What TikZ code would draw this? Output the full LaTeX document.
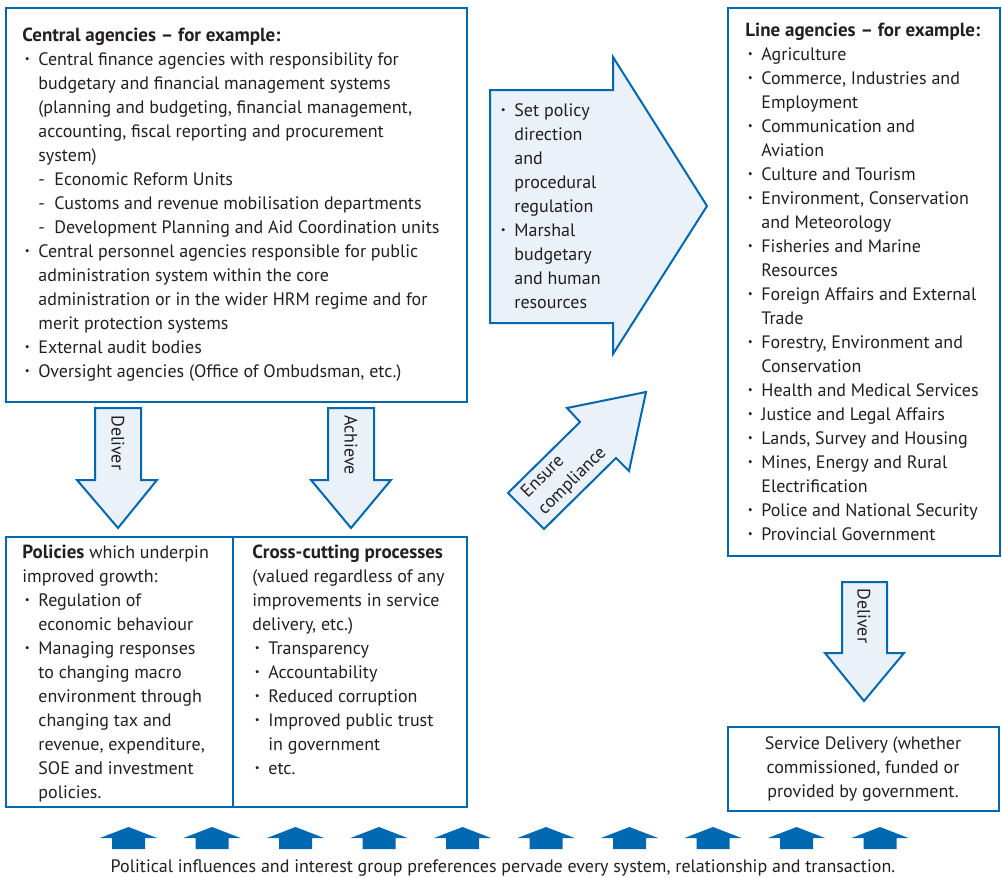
\documentclass[tikz,border=0pt]{standalone}
\usepackage{fontspec}
\setmainfont{PT Sans}
\usepackage{tikz}
\definecolor{govblue}{RGB}{0,103,177}
\definecolor{govfill}{RGB}{234,241,249}
\definecolor{govtext}{RGB}{35,31,32}
% list helpers
\newcommand{\bul}{\makebox[8pt][l]{\hspace{1.2pt}\raisebox{0.3ex}{\scalebox{0.6}{\textbullet}}}}
\newcommand{\ind}{\hspace*{8pt}}
\newcommand{\subd}{\makebox[8pt][l]{-}}
\newcommand{\hd}[1]{{\fontsize{9.5}{12}\selectfont\bfseries #1}}

\begin{document}
\begin{tikzpicture}[x=0.5pt, y=-0.5pt,
    every node/.style={inner sep=0pt, text=govtext, font=\fontsize{9}{12}\selectfont},
    panel/.style={draw=govblue, line width=0.65pt},
    blockarrow/.style={draw=govblue, fill=govfill, line width=1pt, line join=miter},
    listtext/.style={anchor=north west, align=left}]
    \useasboundingbox (0,0) rectangle (1002,878);

    % Central agencies box
    \draw[panel] (6,8) rectangle (467,402);
    \node[listtext] (central) at (22,24) {\strut\hd{Central agencies – for example:}\\
        \bul Central finance agencies with responsibility for\\
        \ind budgetary and financial management systems\\
        \ind (planning and budgeting, financial management,\\
        \ind accounting, fiscal reporting and procurement\\
        \ind system)\\
        \ind\subd Economic Reform Units\\
        \ind\subd Customs and revenue mobilisation departments\\
        \ind\subd Development Planning and Aid Coordination units\\
        \bul Central personnel agencies responsible for public\\
        \ind administration system within the core\\
        \ind administration or in the wider HRM regime and for\\
        \ind merit protection systems\\
        \bul External audit bodies\\
        \bul Oversight agencies (Office of Ombudsman, etc.)};

    % Line agencies box
    \draw[panel] (728,8) rectangle (1000,556);
    \node[listtext] (line) at (745,19) {\strut\hd{Line agencies – for example:}\\
        \bul Agriculture\\
        \bul Commerce, Industries and\\
        \ind Employment\\
        \bul Communication and\\
        \ind Aviation\\
        \bul Culture and Tourism\\
        \bul Environment, Conservation\\
        \ind and Meteorology\\
        \bul Fisheries and Marine\\
        \ind Resources\\
        \bul Foreign Affairs and External\\
        \ind Trade\\
        \bul Forestry, Environment and\\
        \ind Conservation\\
        \bul Health and Medical Services\\
        \bul Justice and Legal Affairs\\
        \bul Lands, Survey and Housing\\
        \bul Mines, Energy and Rural\\
        \ind Electrification\\
        \bul Police and National Security\\
        \bul Provincial Government};

    % Big arrow between the agencies
    \draw[blockarrow] (490,90) -- (613,90) -- (613,57) -- (707,206) -- (613,354) -- (613,323) -- (490,323) -- cycle;
    \node[listtext] (steer) at (498,99) {\strut\bul Set policy\\
        \ind direction\\
        \ind and\\
        \ind procedural\\
        \ind regulation\\
        \bul Marshal\\
        \ind budgetary\\
        \ind and human\\
        \ind resources};

    % Ensure compliance arrow
    \draw[blockarrow] (508,493) -- (580,422) -- (567,408) -- (646,392) -- (629,471) -- (616,458) -- (544,529) -- cycle;
    \node[rotate=45, anchor=west, align=left] (comply) at (533,504) {Ensure\\compliance};

    % Down arrows
    \draw[blockarrow] (95,408) -- (141,408) -- (141,480) -- (157,480) -- (118,528) -- (77,480) -- (95,480) -- cycle;
    \node[rotate=-90, anchor=west] (deliverA) at (118,415) {Deliver};
    \draw[blockarrow] (328,408) -- (374,408) -- (374,480) -- (391,480) -- (351,528) -- (311,480) -- (328,480) -- cycle;
    \node[rotate=-90, anchor=west] (achieve) at (351,415) {Achieve};
    \draw[blockarrow] (842,582) -- (887,582) -- (887,653) -- (904,653) -- (864,701) -- (825,653) -- (842,653) -- cycle;
    \node[rotate=-90, anchor=west] (deliverB) at (864,588) {Deliver};

    % Policies and cross-cutting processes
    \draw[panel] (6,537) rectangle (467,807);
    \draw[panel] (233,537) -- (233,807);
    \node[listtext] (policies) at (22,541) {\strut\hd{Policies} which underpin\\
        improved growth:\\
        \bul Regulation of\\
        \ind economic behaviour\\
        \bul Managing responses\\
        \ind to changing macro\\
        \ind environment through\\
        \ind changing tax and\\
        \ind revenue, expenditure,\\
        \ind SOE and investment\\
        \ind policies.};
    \node[listtext] (crosscut) at (252,541) {\strut\hd{Cross-cutting processes}\\
        (valued regardless of any\\
        improvements in service\\
        delivery, etc.)\\
        \bul Transparency\\
        \bul Accountability\\
        \bul Reduced corruption\\
        \bul Improved public trust\\
        \ind in government\\
        \bul etc.};

    % Service delivery
    \draw[panel] (728,727) rectangle (999,811);
    \node[align=center] (service) at (863,769) {Service Delivery (whether\\commissioned, funded or\\provided by government.};

    % Political influences
    \foreach \i in {0,...,9} {
        \fill[govblue] ({128.5+83.5*\i},827) -- ++(28.5,11) -- ++(-12,0) -- ++(0,11) -- ++(-33,0) -- ++(0,-11) -- ++(-12,0) -- cycle;
    }
    \node (caption) at (503,868) {Political influences and interest group preferences pervade every system, relationship and transaction.};
\end{tikzpicture}
\end{document}
